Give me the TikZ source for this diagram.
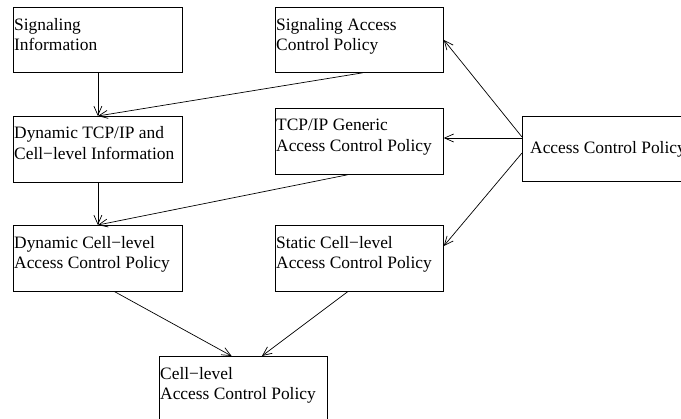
\documentclass[tikz,border=0pt]{standalone}
\usepackage{fontspec}
\setmainfont{Liberation Serif}
\usetikzlibrary{arrows.meta,calc}
\begin{document}
\begin{tikzpicture}[x=1pt,y=-1pt,
  box/.style={draw,line width=0.8pt,minimum width=169pt,minimum height=65pt,inner sep=0pt,anchor=north west},
  lbl/.style={anchor=north west,inner sep=0pt,align=left,font=\fontsize{17.4}{20.8}\selectfont},
  arr/.style={line width=0.7pt,-{Straight Barb[length=9pt,width=8pt,line width=0.7pt]}}]
\useasboundingbox (0,0) rectangle (681,419);
\node[box] (si) at (13,7) {};
\node[box,minimum width=168pt] (sacp) at (275,7) {};
\node[box,minimum height=66pt] (dtcp) at (13,116) {};
\node[box,minimum width=168pt,minimum height=66pt] (tcpg) at (275,108) {};
\node[box] (acp) at (522,116) {};
\node[box,minimum height=66pt] (dcl) at (13,225) {};
\node[box,minimum width=168pt,minimum height=66pt] (scl) at (275,225) {};
\node[box,minimum width=168pt] (cl) at (159,356) {};
\node[lbl] (tsi) at ($(si.north west)+(1,10.8)$) {Signaling\\Information};
\node[lbl] (tsacp) at ($(sacp.north west)+(1,10.8)$) {Signaling Access\\Control Policy};
\node[lbl] (tdtcp) at ($(dtcp.north west)+(1,10.5)$) {Dynamic TCP/IP and\\Cell\textminus level Information};
\node[lbl] (ttcpg) at ($(tcpg.north west)+(1,10.8)$) {TCP/IP Generic\\Access Control Policy};
\node[lbl] (tacp) at ($(acp.north west)+(8,25)$) {Access Control Policy};
\node[lbl] (tdcl) at ($(dcl.north west)+(1,10.8)$) {Dynamic Cell\textminus level\\Access Control Policy};
\node[lbl] (tscl) at ($(scl.north west)+(1,10.8)$) {Static Cell\textminus level\\Access Control Policy};
\node[lbl] (tcl) at ($(cl.north west)+(1,10.8)$) {Cell\textminus level\\Access Control Policy};
\coordinate (a1) at ($(acp.north west)+(0,21)$);
\coordinate (a2) at ($(acp.north west)+(0,22)$);
\coordinate (a3) at ($(acp.north west)+(0,37)$);
\draw[arr] (si.south) -- (dtcp.north);
\draw[arr] ($(sacp.south west)!0.52!(sacp.south east)$) -- (dtcp.north);
\draw[arr] ($(tcpg.south west)!0.43!(tcpg.south east)$) -- (dcl.north);
\draw[arr] (dtcp.south) -- (dcl.north);
\draw[arr] (a1) -- (sacp.east);
\draw[arr] (a2) -- (a2 -| tcpg.east);
\draw[arr] (a3) -- ($(scl.north east)+(0,21)$);
\draw[arr] ($(dcl.south west)!0.6!(dcl.south east)$) -- ($(cl.north west)!0.43!(cl.north east)$);
\draw[arr] ($(scl.south west)!0.43!(scl.south east)$) -- ($(cl.north west)!0.61!(cl.north east)$);
\end{tikzpicture}
\end{document}
